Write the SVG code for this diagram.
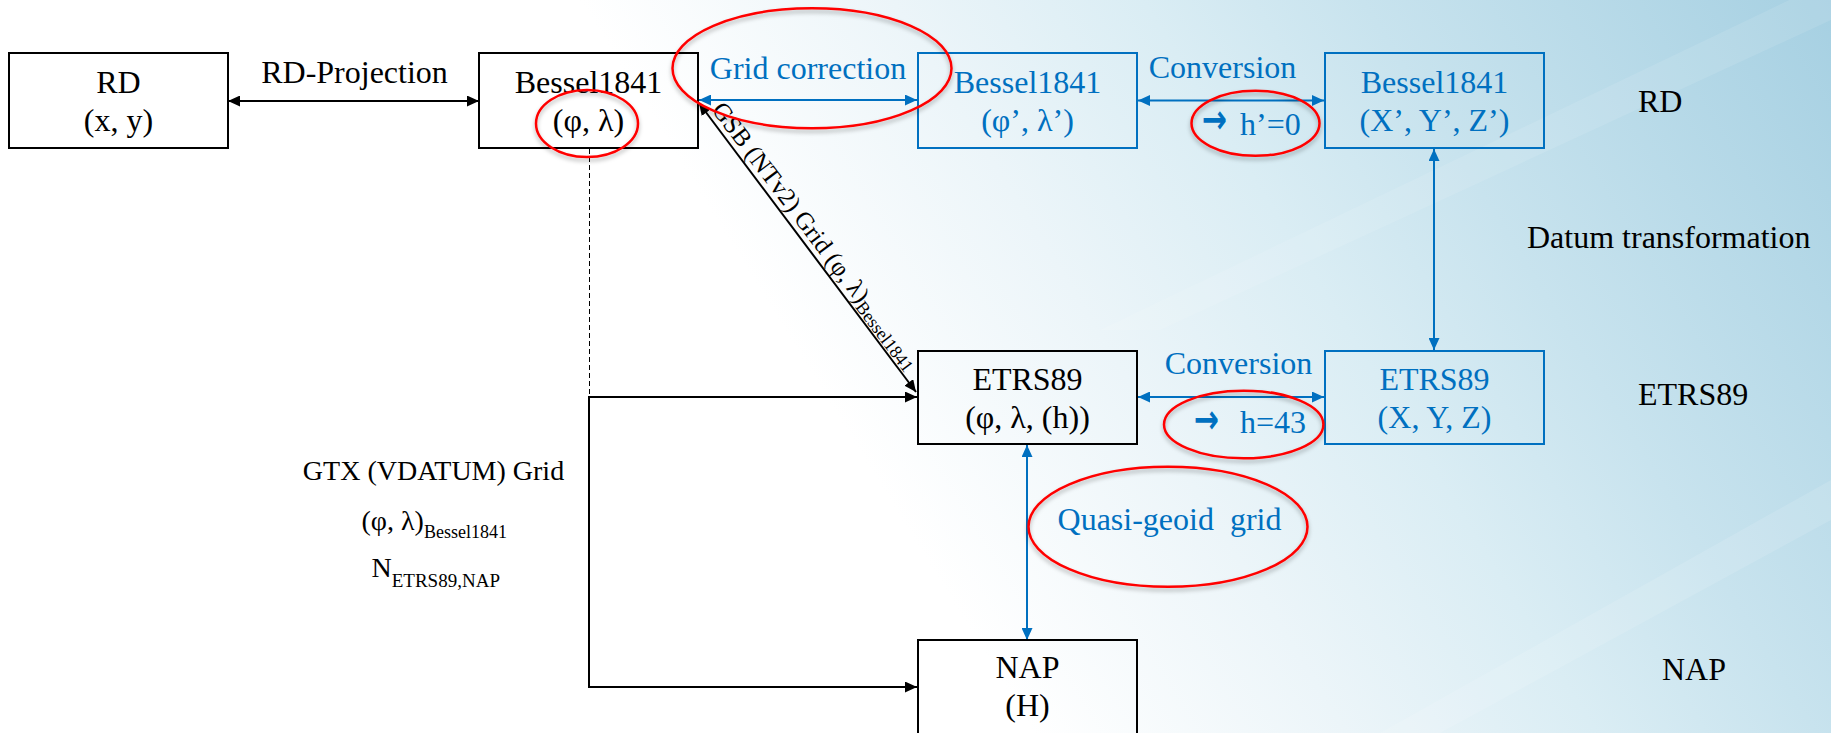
<svg xmlns="http://www.w3.org/2000/svg" width="1831" height="733" viewBox="0 0 1831 733">
<defs>
  <linearGradient id="bg" gradientUnits="userSpaceOnUse" x1="700" y1="700" x2="1831" y2="0">
    <stop offset="0.2" stop-color="#ffffff"/>
    <stop offset="0.4" stop-color="#ecf5f9"/>
    <stop offset="0.56" stop-color="#daedf4"/>
    <stop offset="0.7" stop-color="#c8e3ee"/>
    <stop offset="1" stop-color="#a6d0e2"/>
  </linearGradient>
  <filter id="sh" x="-10%" y="-10%" width="120%" height="130%">
    <feDropShadow dx="0" dy="3" stdDeviation="2" flood-color="#000000" flood-opacity="0.3"/>
  </filter>
  <marker id="ak" viewBox="0 0 12 11" refX="12" refY="5.5" markerWidth="12" markerHeight="11" markerUnits="userSpaceOnUse" orient="auto-start-reverse">
    <path d="M0,0 L12,5.5 L0,11 z" fill="#000000"/>
  </marker>
  <marker id="ab" viewBox="0 0 12 11" refX="12" refY="5.5" markerWidth="12" markerHeight="11" markerUnits="userSpaceOnUse" orient="auto-start-reverse">
    <path d="M0,0 L12,5.5 L0,11 z" fill="#0070c0"/>
  </marker>
  <style>
    text { font-family: "Liberation Serif", "Times New Roman", "DejaVu Serif", serif; }
    .t { font-size: 32px; fill: #000000; }
    .tb { font-size: 32px; fill: #0070c0; }
    .c { text-anchor: middle; }
    .arr { font-family: "DejaVu Sans", sans-serif; font-weight: bold; font-size: 40px; fill: #0070c0; }
    .bk { fill: none; stroke: #000000; stroke-width: 2; }
    .bb { fill: none; stroke: #0070c0; stroke-width: 2; }
    .lk { fill: none; stroke: #000000; stroke-width: 2; }
    .lb { fill: none; stroke: #0070c0; stroke-width: 2; }
    .red { fill: none; stroke: #ff0000; stroke-width: 2.5; filter: url(#sh); }
  </style>
</defs>

<rect x="0" y="0" width="1831" height="733" fill="url(#bg)"/>
<polygon points="1380,733 1831,480 1831,520 1440,733" fill="#ffffff" opacity="0.12"/>
<polygon points="1100,330 1831,-20 1831,20 1160,330" fill="#ffffff" opacity="0.10"/>

<g id="connectors">
  <line class="lk" x1="228" y1="101" x2="479" y2="101" marker-start="url(#ak)" marker-end="url(#ak)"/>
  <line class="lb" x1="699" y1="100" x2="917" y2="100" marker-start="url(#ab)" marker-end="url(#ab)"/>
  <line class="lb" x1="1138" y1="100.5" x2="1324" y2="100.5" marker-start="url(#ab)" marker-end="url(#ab)"/>
  <line class="lb" x1="1434" y1="149" x2="1434" y2="350" stroke-width="1.6" marker-start="url(#ab)" marker-end="url(#ab)"/>
  <line class="lb" x1="1138" y1="397" x2="1324" y2="397" marker-start="url(#ab)" marker-end="url(#ab)"/>
  <line class="lb" x1="1027" y1="445" x2="1027" y2="640" stroke-width="1.6" marker-start="url(#ab)" marker-end="url(#ab)"/>
  <line class="lk" x1="699" y1="103" x2="916" y2="392" stroke-width="1.6" marker-start="url(#ak)" marker-end="url(#ak)"/>
  <line x1="589.5" y1="149" x2="589.5" y2="397" stroke="#000000" stroke-width="1" stroke-dasharray="5,3"/>
  <polyline class="lk" points="917,397 589,397 589,687 917,687" marker-start="url(#ak)" marker-end="url(#ak)"/>
</g>

<g id="node-rd">
  <rect class="bk" x="9" y="53" width="219" height="95"/>
  <text class="t c" x="118.5" y="93">RD</text>
  <text class="t c" x="118.5" y="131">(x, y)</text>
</g>

<g id="node-bessel">
  <rect class="bk" x="479" y="53" width="219" height="95"/>
  <text class="t c" x="588.5" y="93">Bessel1841</text>
  <text class="t c" x="588.5" y="131">(φ, λ)</text>
</g>

<g id="node-bessel-prime">
  <rect class="bb" x="918" y="53" width="219" height="95"/>
  <text class="tb c" x="1027.5" y="93">Bessel1841</text>
  <text class="tb c" x="1027.5" y="131">(φ’, λ’)</text>
</g>

<g id="node-bessel-xyz">
  <rect class="bb" x="1325" y="53" width="219" height="95"/>
  <text class="tb c" x="1434.5" y="93">Bessel1841</text>
  <text class="tb c" x="1434.5" y="131">(X’, Y’, Z’)</text>
</g>

<g id="node-etrs89">
  <rect class="bk" x="918" y="351" width="219" height="93"/>
  <text class="t c" x="1027.5" y="390">ETRS89</text>
  <text class="t c" x="1027.5" y="428">(φ, λ, (h))</text>
</g>

<g id="node-etrs89-xyz">
  <rect class="bb" x="1325" y="351" width="219" height="93"/>
  <text class="tb c" x="1434.5" y="390">ETRS89</text>
  <text class="tb c" x="1434.5" y="428">(X, Y, Z)</text>
</g>

<g id="node-nap">
  <rect class="bk" x="918" y="640" width="219" height="96"/>
  <text class="t c" x="1027.5" y="678">NAP</text>
  <text class="t c" x="1027.5" y="716">(H)</text>
</g>

<g id="labels">
  <text class="t c" x="354.5" y="83">RD-Projection</text>
  <text class="tb c" x="808" y="79">Grid correction</text>
  <text class="tb c" x="1222.5" y="78">Conversion</text>
  <text class="arr" transform="translate(1202,133) scale(0.75,1)">→</text>
  <text class="tb" x="1240" y="135">h’=0</text>
  <text class="tb c" x="1238.5" y="374">Conversion</text>
  <text class="arr" transform="translate(1194,433) scale(0.75,1)">→</text>
  <text class="tb" x="1240" y="433">h=43</text>
  <text class="tb c" x="1169.5" y="529.5">Quasi-geoid&#160; grid</text>
  <text font-size="25" transform="translate(711,110) rotate(52.97)">GSB (NTv2) Grid (φ, λ)<tspan font-size="18" dy="4">Bessel1841</tspan></text>
  <text font-size="28" text-anchor="middle" x="433.5" y="480">GTX (VDATUM) Grid</text>
  <text font-size="28" x="361.5" y="530">(φ, λ)<tspan font-size="18" dy="8">Bessel1841</tspan></text>
  <text font-size="28" x="371.5" y="577">N<tspan font-size="19" dy="10">ETRS89,NAP</tspan></text>
  <text class="t" x="1638" y="112">RD</text>
  <text class="t" x="1527" y="248">Datum transformation</text>
  <text class="t" x="1638" y="405">ETRS89</text>
  <text class="t" x="1662" y="680">NAP</text>
</g>

<g id="highlights">
  <ellipse class="red" cx="587" cy="123.5" rx="51" ry="33.5"/>
  <ellipse class="red" cx="812" cy="68.3" rx="139.5" ry="60"/>
  <ellipse class="red" cx="1255.5" cy="123.3" rx="64" ry="32.5"/>
  <ellipse class="red" cx="1243.7" cy="424.5" rx="79.7" ry="33.8"/>
  <ellipse class="red" cx="1168" cy="526.7" rx="139.5" ry="60"/>
</g>
</svg>
